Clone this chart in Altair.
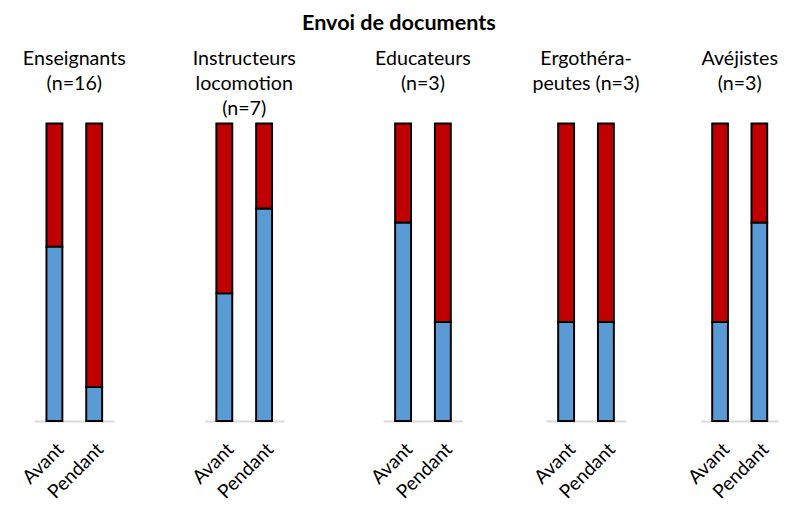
import altair as alt
import pandas as pd

groupes = ["Enseignants", "Instructeurs locomotion", "Educateurs", "Ergothérapeutes", "Avéjistes"]
titres = [
    ["Enseignants", "(n=16)"],
    ["Instructeurs", "locomotion", "(n=7)"],
    ["Educateurs", "(n=3)"],
    ["Ergothéra-", "peutes (n=3)"],
    ["Avéjistes", "(n=3)"],
]
periodes = ["Avant", "Pendant"]
reponses = ["Oui", "Non"]
# share (%) of each answer, per group, for [Avant, Pendant]
oui = [[58.6, 11.4], [42.9, 71.4], [66.7, 33.3], [33.3, 33.3], [33.3, 66.7]]
non = [[41.4, 88.6], [57.1, 28.6], [33.3, 66.7], [66.7, 66.7], [66.7, 33.3]]
couleurs = ["#5b9bd5", "#c00000"]

FONT = "Lato"
gaps = [92, 101, 85, 76]
widths = [81, 81, 81, 81, 80]


def panneau(i):
    rows = []
    for j, p in enumerate(periodes):
        rows.append({"periode": p, "reponse": reponses[0], "ordre": 0, "valeur": oui[i][j]})
        rows.append({"periode": p, "reponse": reponses[1], "ordre": 1, "valeur": non[i][j]})
    df = pd.DataFrame(rows)
    lines = titres[i] + [""] * (3 - len(titres[i]))
    return (
        alt.Chart(
            df,
            title=alt.Title(
                lines, fontSize=20, font=FONT, fontWeight="normal", color="black",
                lineHeight=25, offset=4, anchor="middle",
            ),
        )
        .mark_bar(stroke="black", strokeWidth=2)
        .encode(
            x=alt.X(
                "periode:N", sort=periodes,
                scale=alt.Scale(paddingInner=0.6, paddingOuter=0.3),
                axis=alt.Axis(
                    title=None, labelAngle=-45, ticks=False, domainColor="#d9d9d9",
                    domainWidth=2, labelFontSize=19.5, labelFont=FONT, labelColor="black",
                    labelPadding=19,
                ),
            ),
            y=alt.Y("valeur:Q", stack="normalize", axis=None),
            color=alt.Color(
                "reponse:N",
                scale=alt.Scale(domain=reponses, range=couleurs),
                legend=None,
            ),
            order=alt.Order("ordre:Q", sort="ascending"),
        )
        .properties(width=widths[i], height=303)
    )


def espace(w):
    return (
        alt.Chart(pd.DataFrame({"v": [0]}))
        .mark_point(opacity=0)
        .encode(x=alt.value(0), y=alt.value(0))
        .properties(width=w, height=303)
    )


cells = []
for i in range(len(groupes)):
    cells.append(panneau(i))
    if i < len(gaps):
        cells.append(espace(gaps[i]))

chart = (
    alt.hconcat(*cells, spacing=0, bounds="flush")
    .properties(
        title=alt.TitleParams(
            "Envoi de documents", fontSize=22, font=FONT, fontWeight="bold",
            anchor="middle", color="black", offset=15,
        ),
        padding={"left": 10, "right": 0, "top": 0, "bottom": 0},
    )
    .configure_view(stroke=None)
)

chart.save("out.html", embed_options={"renderer": "svg", "actions": False})
